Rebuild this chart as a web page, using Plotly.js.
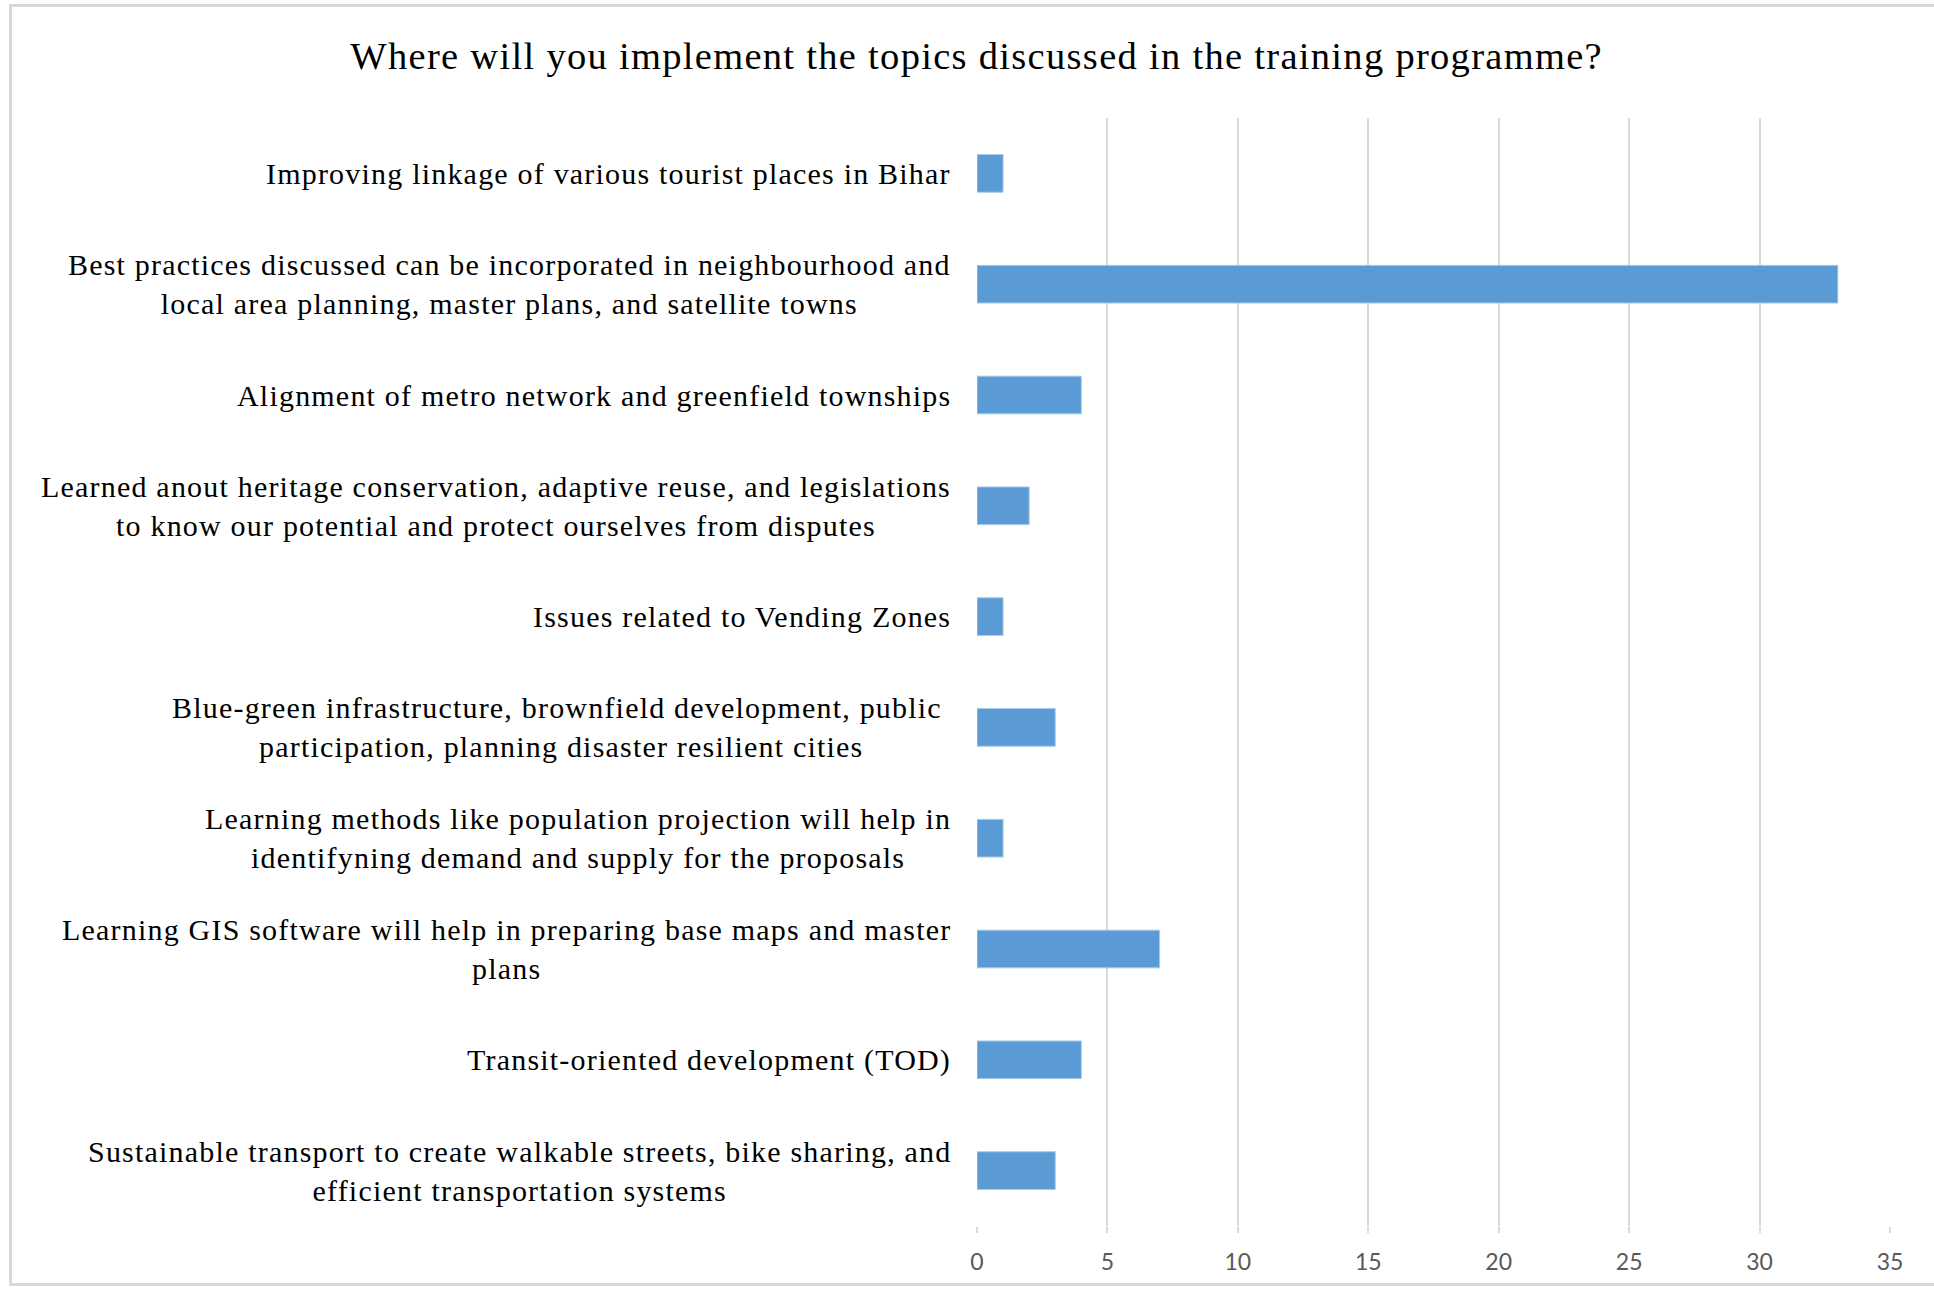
<!DOCTYPE html>
<html>
<head>
<meta charset="utf-8">
<script src="https://cdn.plot.ly/plotly-3.0.1.min.js"></script>
<style>
  html, body { margin: 0; padding: 0; background: #fff; overflow: hidden; }
  #chart { width: 1934px; height: 1290px; }
  #frame { position: absolute; left: 9px; top: 4px; width: 1940px; height: 1282px;
           border: 3px solid #d9d9d9; pointer-events: none; box-sizing: border-box; }
  svg text.annotation-text { letter-spacing: 1.2px; }
  svg .gtitle { letter-spacing: 1.3px; }
</style>
</head>
<body>
<div id="chart"></div>
<div id="frame"></div>
<script>
const chartTitle = "Where will you implement the topics discussed in the training programme?";

const categories = [
  "Improving linkage of various tourist places in Bihar",
  "Best practices discussed can be incorporated in neighbourhood and<br>local area planning, master plans, and satellite towns",
  "Alignment of metro network and greenfield townships",
  "Learned anout heritage conservation, adaptive reuse, and legislations<br>to know our potential and protect ourselves from disputes",
  "Issues related to Vending Zones",
  "Blue-green infrastructure, brownfield development, public <br>participation, planning disaster resilient cities",
  "Learning methods like population projection will help in<br>identifyning demand and supply for the proposals",
  "Learning GIS software will help in preparing base maps and master<br>plans",
  "Transit-oriented development (TOD)",
  "Sustainable transport to create walkable streets, bike sharing, and<br>efficient transportation systems"
];

const counts = [1, 33, 4, 2, 1, 3, 1, 7, 4, 3];

const xTickValues = [0, 5, 10, 15, 20, 25, 30, 35];

const trace = {
  type: "bar",
  orientation: "h",
  x: counts,
  y: categories,
  marker: { color: "#5b9bd5", line: { color: "#a9c9ea", width: 1 } },
  width: 0.34,
  hoverinfo: "x+y"
};

const labelAnnotations = categories.map(c => ({
  xref: "x", yref: "y",
  x: 0, y: c,
  xanchor: "right", yanchor: "middle",
  xshift: -24,
  align: "center",
  showarrow: false,
  text: c,
  font: { family: "Liberation Serif, Times New Roman, serif", size: 30, color: "#000" }
}));

const layout = {
  width: 1934,
  height: 1290,
  paper_bgcolor: "#ffffff",
  plot_bgcolor: "#ffffff",
  margin: { l: 977, r: 44, t: 118, b: 64, pad: 0 },
  showlegend: false,
  title: {
    text: chartTitle,
    font: { family: "Liberation Serif, Times New Roman, serif", size: 38.5, color: "#000" },
    x: 0.505, xanchor: "center",
    y: 0.957, yanchor: "middle",
    xref: "container", yref: "container"
  },
  xaxis: {
    range: [0, 35],
    tickvals: xTickValues,
    ticktext: xTickValues.map(String),
    showgrid: true,
    gridcolor: "#d9d9d9",
    gridwidth: 2,
    zeroline: false,
    showline: false,
    ticks: "outside",
    ticklen: 6,
    tickwidth: 2,
    tickcolor: "#d9d9d9",
    ticklabelstandoff: 9,
    tickfont: { family: "Lato, Open Sans, sans-serif", size: 23, color: "#595959" },
    fixedrange: true
  },
  yaxis: {
    type: "category",
    categoryorder: "array",
    categoryarray: categories,
    autorange: "reversed",
    showticklabels: false,
    showgrid: false,
    zeroline: false,
    showline: false,
    ticks: "",
    fixedrange: true
  },
  annotations: labelAnnotations
};

Plotly.newPlot("chart", [trace], layout, { displayModeBar: false, staticPlot: true });
</script>
</body>
</html>
